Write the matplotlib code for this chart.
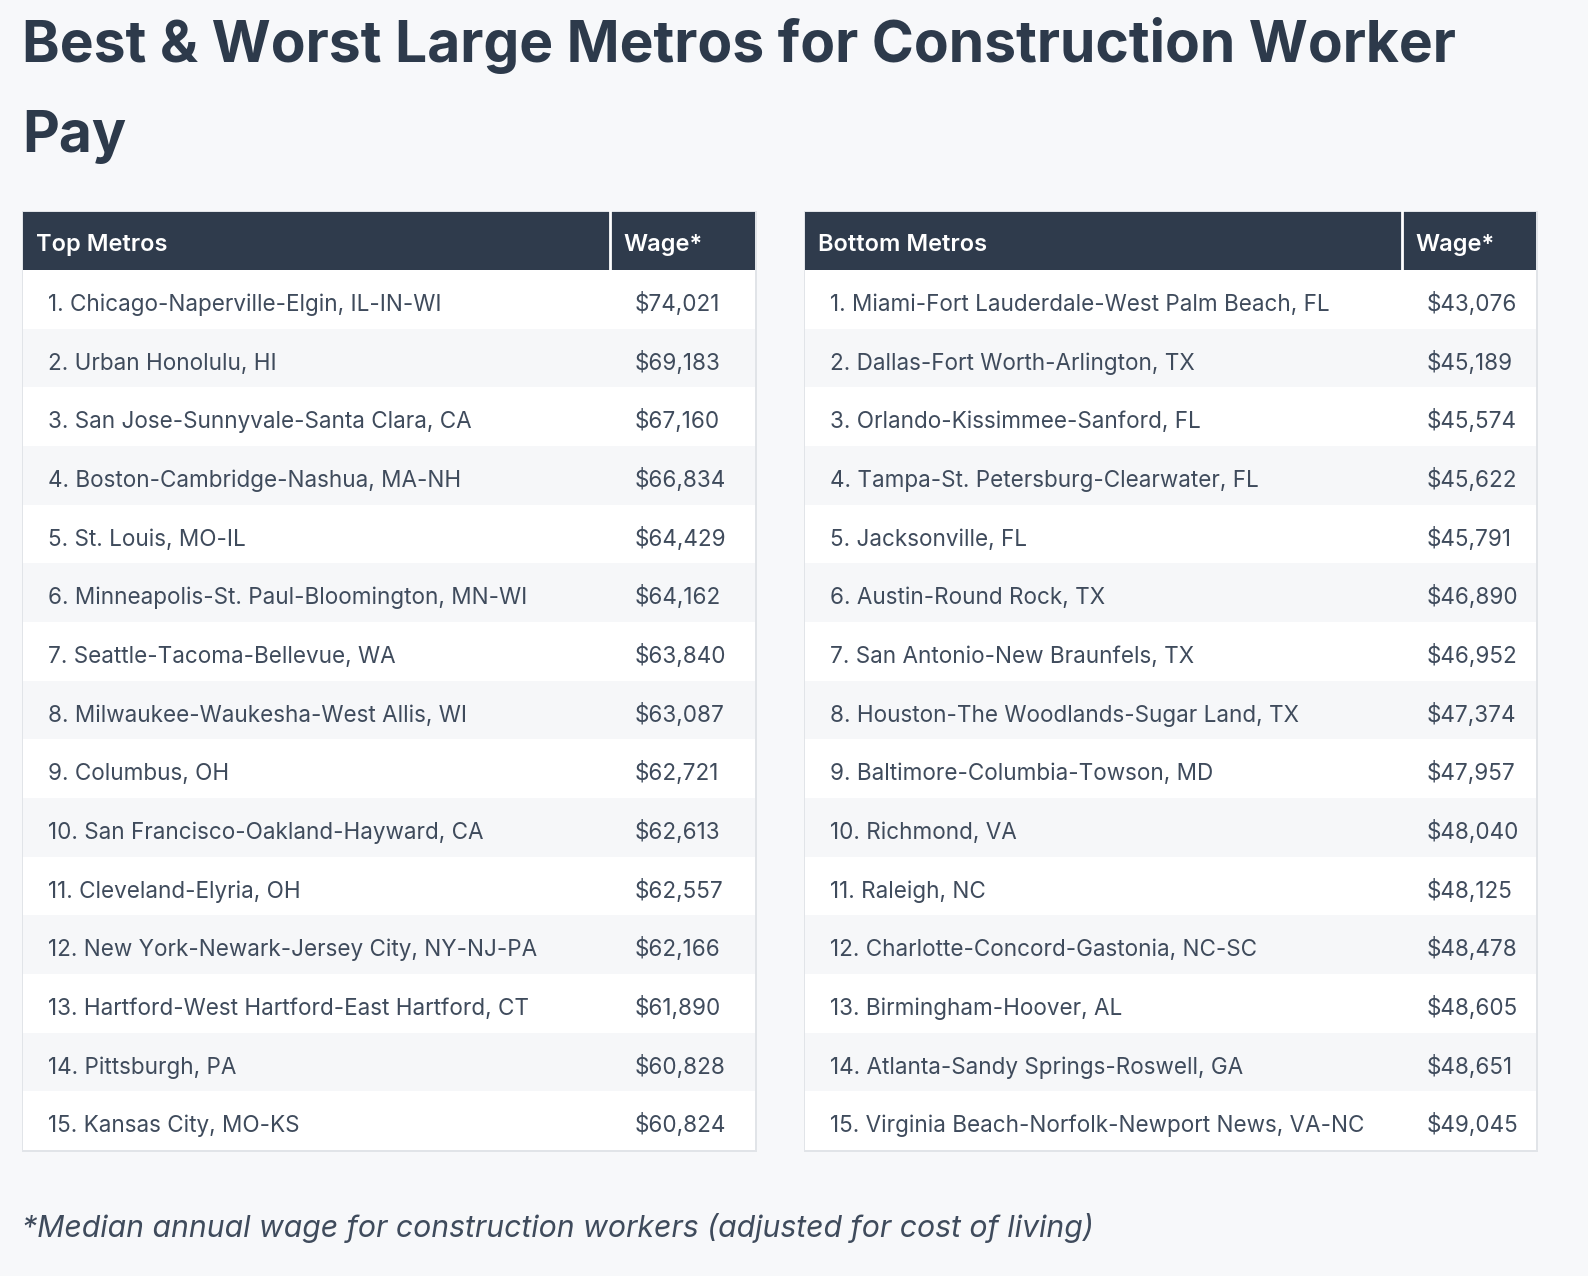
import matplotlib.pyplot as plt
from matplotlib.patches import Rectangle

plt.rcParams['font.family'] = ['Inter', 'DejaVu Sans']

title_lines = ["Best & Worst Large Metros for Construction Worker", "Pay"]
footnote = "*Median annual wage for construction workers (adjusted for cost of living)"

top_header = ["Top Metros", "Wage*"]
top_metros = [
    "Chicago-Naperville-Elgin, IL-IN-WI", "Urban Honolulu, HI",
    "San Jose-Sunnyvale-Santa Clara, CA", "Boston-Cambridge-Nashua, MA-NH",
    "St. Louis, MO-IL", "Minneapolis-St. Paul-Bloomington, MN-WI",
    "Seattle-Tacoma-Bellevue, WA", "Milwaukee-Waukesha-West Allis, WI",
    "Columbus, OH", "San Francisco-Oakland-Hayward, CA", "Cleveland-Elyria, OH",
    "New York-Newark-Jersey City, NY-NJ-PA",
    "Hartford-West Hartford-East Hartford, CT", "Pittsburgh, PA",
    "Kansas City, MO-KS",
]
top_wages = [74021, 69183, 67160, 66834, 64429, 64162, 63840, 63087,
             62721, 62613, 62557, 62166, 61890, 60828, 60824]

bottom_header = ["Bottom Metros", "Wage*"]
bottom_metros = [
    "Miami-Fort Lauderdale-West Palm Beach, FL", "Dallas-Fort Worth-Arlington, TX",
    "Orlando-Kissimmee-Sanford, FL", "Tampa-St. Petersburg-Clearwater, FL",
    "Jacksonville, FL", "Austin-Round Rock, TX", "San Antonio-New Braunfels, TX",
    "Houston-The Woodlands-Sugar Land, TX", "Baltimore-Columbia-Towson, MD",
    "Richmond, VA", "Raleigh, NC", "Charlotte-Concord-Gastonia, NC-SC",
    "Birmingham-Hoover, AL", "Atlanta-Sandy Springs-Roswell, GA",
    "Virginia Beach-Norfolk-Newport News, VA-NC",
]
bottom_wages = [43076, 45189, 45574, 45622, 45791, 46890, 46952, 47374,
                47957, 48040, 48125, 48478, 48605, 48651, 49045]

W, H = 1588, 1276
BG = "#f7f8fa"
DARK = "#2f3b4c"
TEXT = "#3f4b5c"
BORDER = "#e1e4e8"
STRIPE = "#f6f7f9"

fig = plt.figure(figsize=(W / 100, H / 100), dpi=100, facecolor=BG)
ax = fig.add_axes([0, 0, 1, 1])
ax.set_xlim(0, W)
ax.set_ylim(H, 0)
ax.axis("off")

ax.text(22, 62, title_lines[0], fontsize=41, fontweight="bold", color="#2d3a4b", va="baseline")
ax.text(22, 152, title_lines[1], fontsize=41, fontweight="bold", color="#2d3a4b", va="baseline")


def draw_table(x0, x1, xdiv, header, metros, wages):
    top, head_h, row_h = 212, 58, 58.67
    n = len(metros)
    bottom = top + head_h + n * row_h
    ax.add_patch(Rectangle((x0 - 1.5, top - 1.5), x1 - x0 + 3, bottom - top + 3,
                           facecolor=BORDER, edgecolor="none"))
    ax.add_patch(Rectangle((x0, top), x1 - x0, head_h, facecolor=DARK, edgecolor="none"))
    ax.plot([xdiv, xdiv], [top, top + head_h], color="white", lw=2)
    ax.text(x0 + 12.5, top + head_h / 2 + 10, header[0], fontsize=17, fontweight="semibold",
            color="white", va="baseline")
    ax.text(xdiv + 13, top + head_h / 2 + 10, header[1], fontsize=17, fontweight="semibold",
            color="white", va="baseline")
    for i, (name, wage) in enumerate(zip(metros, wages)):
        y = top + head_h + i * row_h
        ax.add_patch(Rectangle((x0, y), x1 - x0, row_h,
                               facecolor="white" if i % 2 == 0 else STRIPE, edgecolor="none"))
        yc = y + row_h / 2 + 11.5
        ax.text(x0 + 25, yc, f"{i + 1}. {name}", fontsize=16.2, color=TEXT, va="baseline")
        ax.text(xdiv + 25, yc, f"${wage:,}", fontsize=16.2, color=TEXT, va="baseline")


draw_table(23, 755, 610, top_header, top_metros, top_wages)
draw_table(805, 1536, 1402, bottom_header, bottom_metros, bottom_wages)

ax.text(22, 1237, footnote, fontsize=21.75, style="italic", color=TEXT, va="baseline")

fig.savefig("out.png", dpi=100, facecolor=BG)
